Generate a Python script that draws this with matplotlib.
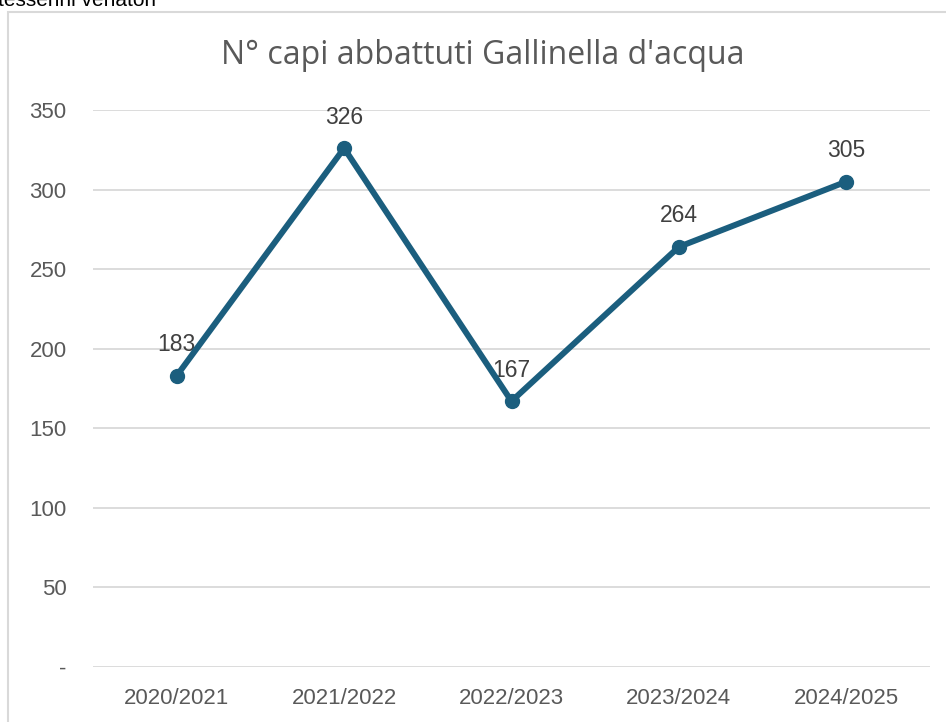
import matplotlib.pyplot as plt
from matplotlib.patches import Rectangle

seasons = ['2020/2021', '2021/2022', '2022/2023', '2023/2024', '2024/2025']
capi = [183, 326, 167, 264, 305]
y_ticks = [0, 50, 100, 150, 200, 250, 300, 350]
y_labels = ['-', '50', '100', '150', '200', '250', '300', '350']

W, H = 946, 722
fig = plt.figure(figsize=(W / 100, H / 100), dpi=100)
plt.rcParams['font.family'] = ['Liberation Sans', 'DejaVu Sans']

# cornice del grafico (tagliata a destra e in basso)
fig.patches.append(Rectangle((8 / W, -0.05), 1.1, 1 - 12 / H + 0.05,
                             transform=fig.transFigure, fill=False,
                             edgecolor='#d9d9d9', linewidth=1.5))
# testo tagliato in alto
fig.text(-2 / W, 1 - 6 / H, 'tesserini venatori', fontsize=15,
         color='black', ha='left', va='baseline')

ax = fig.add_axes([93 / W, 1 - 667 / H, (930 - 93) / W, (667 - 110) / H])
x = list(range(len(seasons)))
ax.plot(x, capi, color='#1b5e7e', linewidth=4.3, marker='o',
        markersize=10, solid_capstyle='round', zorder=3, clip_on=False)

for xi, v in zip(x, capi):
    ax.annotate(str(v), (xi, v), xytext=(0, 14), textcoords='offset points',
                ha='center', va='bottom', fontsize=16.5, color='#404040', zorder=2)

ax.set_xlim(-0.5, len(seasons) - 0.5)
ax.set_ylim(0, 350)
ax.set_yticks(y_ticks)
ax.set_yticklabels(y_labels)
ax.set_xticks(x)
ax.set_xticklabels(seasons)
ax.tick_params(axis='y', length=0, pad=19, labelsize=16, labelcolor='#595959')
ax.tick_params(axis='x', length=0, pad=15, labelsize=16, labelcolor='#595959')
ax.grid(axis='y', color='#d9d9d9', linewidth=1.3)
ax.set_axisbelow(True)
for s in ax.spines.values():
    s.set_visible(False)
ax.set_facecolor('none')

fig.text(483 / W, 1 - 55 / H, "N° capi abbattuti Gallinella d'acqua",
         fontsize=23, color='#595959', ha='center', va='center',
         family=['Open Sans', 'DejaVu Sans'])

fig.savefig('out.png', dpi=100)
